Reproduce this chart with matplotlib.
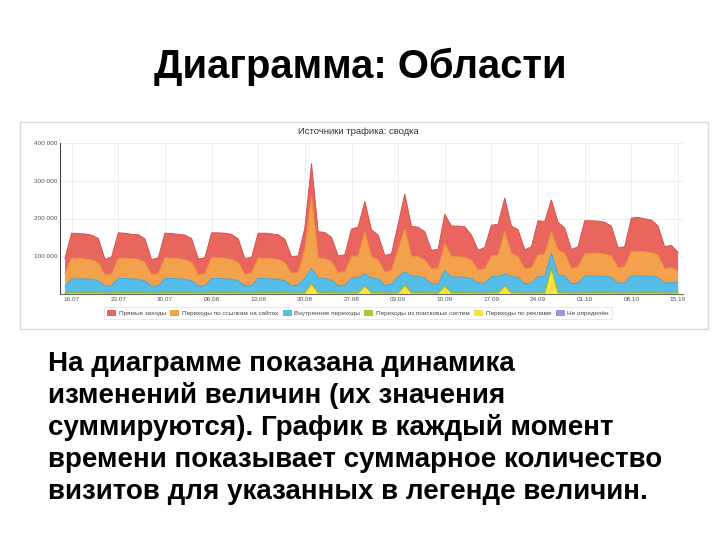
import numpy as np
import matplotlib
matplotlib.use("Agg")
from matplotlib import pyplot as plt
from matplotlib.patches import Patch, Rectangle

plt.rcParams['font.family'] = ['Liberation Sans', 'DejaVu Sans']

#=================Dados (тыс. визитов по дням, 15.07 - 15.10)=================
pryamye = [40,
           66, 65, 66, 66, 64, 42, 45,
           67, 66, 64, 65, 62, 40, 42,
           65, 65, 64, 65, 63, 42, 42,
           66, 66, 66, 66, 62, 42, 42,
           65, 66, 65, 65, 62, 44, 44,
           58, 87, 70, 69, 64, 44, 45,
           72, 76, 80, 71, 66, 44, 43,
           68, 91, 78, 78, 75, 49, 51,
           77, 79, 81, 81, 66, 52, 56,
           81, 82, 89, 72, 71, 50, 56,
           91, 86, 84, 73, 67, 51, 53,
           88, 86, 85, 84, 79, 53, 53,
           88, 90, 87, 86, 77, 58, 59,
           48]
ssylki = [34,
          55, 55, 53, 51, 48, 30, 31,
          54, 54, 54, 53, 49, 31, 32,
          55, 54, 54, 52, 49, 30, 32,
          55, 55, 55, 53, 49, 31, 33,
          55, 54, 54, 53, 48, 33, 34,
          75, 190, 53, 53, 50, 35, 36,
          58, 57, 112, 57, 50, 35, 37,
          72, 115, 54, 53, 48, 40, 40,
          72, 56, 54, 53, 50, 35, 38,
          55, 57, 112, 62, 55, 40, 40,
          57, 60, 57, 66, 60, 40, 43,
          58, 60, 60, 59, 57, 41, 43,
          65, 65, 65, 63, 59, 38, 40,
          32]
vnutrennie = [17,
              36, 36, 36, 35, 31, 17, 19,
              37, 37, 36, 35, 31, 17, 19,
              37, 37, 36, 35, 31, 18, 19,
              37, 37, 36, 35, 31, 18, 19,
              37, 37, 36, 35, 31, 19, 20,
              38, 40, 38, 37, 32, 19, 20,
              38, 40, 31, 38, 36, 20, 23,
              41, 35, 43, 42, 38, 24, 24,
              40, 41, 41, 40, 36, 26, 26,
              42, 42, 31, 42, 40, 24, 26,
              42, 42, 39, 47, 44, 24, 26,
              44, 44, 44, 43, 40, 26, 26,
              44, 44, 43, 43, 40, 26, 27,
              26]
poisk = [2,
         3, 3, 3, 3, 3, 2, 2,
         3, 3, 3, 3, 3, 2, 2,
         3, 3, 3, 3, 3, 2, 2,
         3, 3, 3, 3, 3, 2, 2,
         3, 3, 3, 3, 3, 2, 2,
         3, 3, 3, 3, 3, 2, 2,
         3, 3, 3, 3, 3, 2, 2,
         3, 3, 3, 3, 3, 2, 2,
         3, 3, 3, 3, 3, 2, 2,
         3, 3, 3, 3, 3, 2, 2,
         3, 3, 3, 3, 3, 2, 2,
         3, 3, 3, 3, 3, 2, 2,
         3, 3, 3, 3, 3, 2, 2,
         3]
reklama = [0,
           0, 0, 0, 0, 0, 0, 0,
           0, 0, 0, 0, 0, 0, 0,
           0, 0, 0, 0, 0, 0, 0,
           0, 0, 0, 0, 0, 0, 0,
           0, 0, 0, 0, 0, 0, 0,
           0, 24, 0, 0, 0, 0, 0,
           0, 0, 18, 0, 0, 0, 0,
           0, 20, 0, 0, 0, 0, 0,
           18, 0, 0, 0, 0, 0, 0,
           0, 0, 18, 0, 0, 0, 0,
           0, 0, 65, 0, 0, 0, 0,
           0, 0, 0, 0, 0, 0, 0,
           0, 0, 0, 0, 0, 0, 0,
           0]
neopr = [1,
         1, 1, 1, 1, 1, 1, 1,
         1, 1, 1, 1, 1, 1, 1,
         1, 1, 1, 1, 1, 1, 1,
         1, 1, 1, 1, 1, 1, 1,
         1, 1, 1, 1, 1, 1, 1,
         1, 1, 1, 1, 1, 1, 1,
         1, 1, 1, 1, 1, 1, 1,
         1, 1, 1, 1, 1, 1, 1,
         1, 1, 1, 1, 1, 1, 1,
         1, 1, 1, 1, 1, 1, 1,
         1, 1, 1, 1, 1, 1, 1,
         1, 1, 1, 1, 1, 1, 1,
         1, 1, 1, 1, 1, 1, 1,
         1]
datas = ["16.07", "23.07", "30.07", "06.08", "13.08", "20.08", "27.08",
         "03.09", "10.09", "17.09", "24.09", "01.10", "08.10", "15.10"]
nomes = ["Прямые заходы", "Переходы по ссылкам на сайтах", "Внутренние переходы",
         "Переходы из поисковых систем", "Переходы по рекламе", "Не определён"]

#=================Figura=================
W, H = 720, 540
fig = plt.figure(figsize=(W/100, H/100), dpi=100)
fig.patch.set_facecolor("white")

def fx(px):
    return px / W
def fy(py):
    return 1 - py / H

fig.text(fx(360), fy(78), "Диаграмма: Области", fontsize=28.8, fontweight="bold",
         ha="center", va="baseline", color="black")

# moldura da imagem do grafico
fig.patches.append(Rectangle((fx(20), fy(329)), fx(708) - fx(20), fy(122) - fy(329),
                             transform=fig.transFigure, fill=False,
                             edgecolor="#d9d9d9", linewidth=1))

fig.text(fx(358), fy(131), "Источники трафика: сводка", fontsize=6.8,
         ha="center", va="center", color="#333333")

ax = fig.add_axes([fx(60), fy(294), fx(683) - fx(60), fy(143) - fy(294)])

x = np.arange(len(pryamye))
k = 1000
# ordem de baixo para cima: Не определён, реклама, поиск, внутренние, ссылки, прямые
series = [neopr, reklama, poisk, vnutrennie, ssylki, pryamye]
fills = ["#a58fe0", "#f6e244", "#a6c83a", "#56bde9", "#f3a14c", "#e9665e"]
lines = ["#9078d6", "#ecd42c", "#8fb52a", "#3aa9dd", "#ec9033", "#d9504a"]
vals = [np.array(s) * k for s in series]
ax.stackplot(x, *vals, colors=fills, linewidth=0)
topo = np.cumsum(vals, axis=0)
for i in range(1, len(vals)):
    ax.plot(x, topo[i], color=lines[i], linewidth=0.7)

ax.set_xlim(-0.75, 92.75)
ax.set_ylim(0, 400000)
ax.set_yticks([100000, 200000, 300000, 400000])
ax.set_yticklabels(["100 000", "200 000", "300 000", "400 000"])
ax.set_xticks(np.arange(1, 93, 7))
ax.set_xticklabels(datas)
ax.tick_params(axis="both", labelsize=4.6, colors="#555555", length=0, pad=2)
ax.grid(True, color="#ececec", linewidth=0.6)
ax.set_axisbelow(True)
for s in ["top", "right"]:
    ax.spines[s].set_visible(False)
ax.spines["left"].set_color("#444444")
ax.spines["bottom"].set_color("#666666")
ax.spines["left"].set_linewidth(0.8)
ax.spines["bottom"].set_linewidth(0.8)

# legenda na ordem do original
ordem_cores = ["#e9665e", "#f3a14c", "#56bde9", "#a6c83a", "#f6e244", "#a58fe0"]
handles = [Patch(facecolor=c, edgecolor="none") for c in ordem_cores]
leg = fig.legend(handles, nomes, loc="center", bbox_to_anchor=(fx(358), fy(313)),
                 ncol=6, fontsize=4.6, frameon=True, fancybox=False,
                 edgecolor="#dddddd", handlelength=1.4, handleheight=1.1,
                 handletextpad=0.4, columnspacing=0.7, borderpad=0.5)
leg.get_frame().set_linewidth(0.6)
for t in leg.get_texts():
    t.set_color("#444444")

texto = ["На диаграмме показана динамика",
         "изменений величин (их значения",
         "суммируются). График в каждый момент",
         "времени показывает суммарное количество",
         "визитов для указанных в легенде величин."]
for i, linha in enumerate(texto):
    fig.text(fx(48), fy(371 + 32 * i), linha, fontsize=20, fontweight="bold",
             ha="left", va="baseline", color="black")

fig.savefig("out.png", dpi=100)
